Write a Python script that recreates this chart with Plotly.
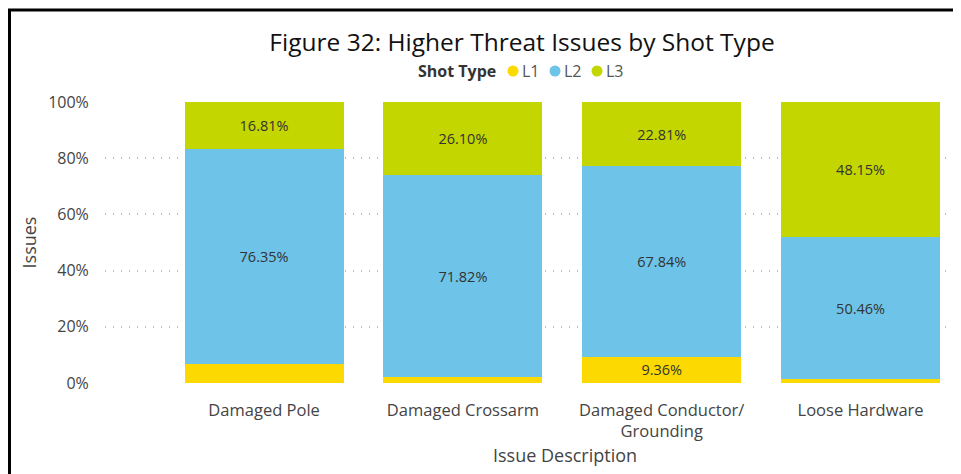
import plotly.graph_objects as go

categories = ['Damaged Pole', 'Damaged Crossarm', 'Damaged Conductor/<br>Grounding', 'Loose Hardware']
l1 = [6.84, 2.08, 9.36, 1.39]
l2 = [76.35, 71.82, 67.84, 50.46]
l3 = [16.81, 26.10, 22.81, 48.15]
y_ticks = [0, 20, 40, 60, 80, 100]
series = ['L1', 'L2', 'L3']

colors = {'L1': '#FCD900', 'L2': '#6EC4E8', 'L3': '#C4D600'}
font_family = 'Open Sans, Noto Sans, sans-serif'

# the page body has an 8px margin, so the figure is drawn 8px smaller
W, H, OFF = 953, 466, 8


def px_x(px):
    return (px - 105) / 855


def px_y(py):
    return (383 - py) / 281


def labels(values, min_show=8):
    # Power BI hides labels on thin segments
    return ['%.2f%%' % v if v >= min_show else '' for v in values]


fig = go.Figure()
for name, vals in zip(series, [l1, l2, l3]):
    fig.add_trace(go.Bar(
        x=categories, y=vals, name=name, showlegend=False,
        marker=dict(color=colors[name], line=dict(width=0)),
        text=labels(vals), textposition='inside', insidetextanchor='middle',
        textfont=dict(color='#333333', size=14.5, family=font_family),
        width=0.8, hoverinfo='y'))

# Power BI style legend: bold title + small circles
annotations = [
    dict(text='<b>Shot Type</b>', xref='paper', yref='paper', x=px_x(498), y=px_y(71),
         xanchor='right', yanchor='middle', showarrow=False, font=dict(size=16, color='#333333')),
    dict(text='Issue Description', xref='paper', yref='paper', x=px_x(565), y=px_y(455),
         xanchor='center', yanchor='middle', showarrow=False, font=dict(size=18, color='#444444')),
]
shapes = [
    dict(type='line', xref='paper', yref='paper', x0=px_x(7.5), x1=1.02, y0=px_y(10), y1=px_y(10),
         line=dict(color='black', width=3)),
    dict(type='line', xref='paper', yref='paper', x0=px_x(9.5), x1=px_x(9.5), y0=px_y(10), y1=-0.4,
         line=dict(color='black', width=3)),
]
for i, s in enumerate(series):
    cx = 513 + 42 * i
    shapes.append(dict(type='circle', xref='paper', yref='paper', xsizemode='pixel', ysizemode='pixel',
                       xanchor=px_x(cx), yanchor=px_y(71), x0=-5.5, x1=5.5, y0=-5.5, y1=5.5,
                       fillcolor=colors[s], line=dict(width=0)))
    annotations.append(dict(text=s, xref='paper', yref='paper', x=px_x(cx + 6.5), y=px_y(71),
                            xanchor='left', yanchor='middle', showarrow=False,
                            font=dict(size=16, color='#555555')))

fig.update_layout(
    barmode='stack',
    width=W, height=H,
    margin=dict(l=97, r=1, t=94, b=91),
    paper_bgcolor='white', plot_bgcolor='white',
    font=dict(family=font_family, color='#605E5C'),
    showlegend=False,
    title=dict(text='Figure 32: Higher Threat Issues by Shot Type',
               x=(522 - OFF) / W, xanchor='center', y=1 - (42 - OFF) / H, yanchor='middle',
               font=dict(size=24.5, color='#111111', family=font_family)),
    annotations=annotations,
    shapes=shapes,
)

fig.update_xaxes(
    range=[-0.8, 3.5], showgrid=False, zeroline=False, showline=False, automargin=False,
    tickfont=dict(size=16.5, color='#444444'), ticks='outside', ticklen=12, tickcolor='white',
)
fig.update_yaxes(
    range=[0, 100], tickvals=y_ticks, ticktext=['%d%%' % v for v in y_ticks],
    showgrid=True, gridcolor='#BDBDBD', griddash='1px,7px', gridwidth=1.5,
    zeroline=False, showline=False, automargin=False,
    tickfont=dict(size=16, color='#444444'), ticks='outside', ticklen=12, tickcolor='white',
    title=dict(text='Issues', font=dict(size=18, color='#444444'), standoff=6),
)

fig.write_html('out.html')
